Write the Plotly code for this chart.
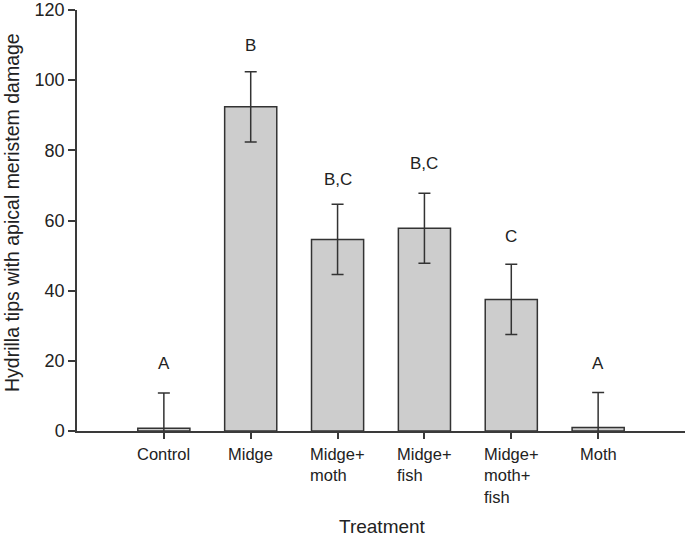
import plotly.graph_objects as go

categories = ["Control", "Midge", "Midge+<br>moth", "Midge+<br>fish", "Midge+<br>moth+<br>fish", "Moth"]
means = [0.8, 92.4, 54.6, 57.8, 37.5, 1.0]
errors = [10.0, 10.0, 10.0, 10.0, 10.0, 10.0]
letters = ["A", "B", "B,C", "B,C", "C", "A"]
letter_y = [19.2, 110.0, 71.7, 76.2, 55.4, 19.2]
y_ticks = [0, 20, 40, 60, 80, 100, 120]

FONT = "Liberation Sans, Arial, sans-serif"
TXT = "#222222"
LINE = "#3a3a3a"

fig = go.Figure()
fig.add_trace(go.Bar(
    x=categories, y=means, width=0.6,
    marker=dict(color="#cdcdcd", line=dict(color="#333333", width=1.5)),
    error_y=dict(type="data", array=errors, visible=True, color="#333333", thickness=1.5, width=6),
    showlegend=False,
))

for c, l, ly in zip(categories, letters, letter_y):
    fig.add_annotation(x=c, y=ly, xref="x", yref="y", text=l, showarrow=False,
                       font=dict(family=FONT, size=17, color=TXT), xanchor="center", yanchor="middle")

for c in categories:
    fig.add_annotation(x=c, y=0, xref="x", yref="paper", text=c, showarrow=False,
                       align="left", xanchor="center", yanchor="top", yshift=-12,
                       font=dict(family=FONT, size=16.5, color=TXT))

fig.add_annotation(x=-0.107, y=0.52, xref="paper", yref="paper", text="Hydrilla tips with apical meristem damage",
                   textangle=-90, showarrow=False, xanchor="center", yanchor="middle",
                   font=dict(family=FONT, size=19.5, color=TXT))
fig.add_annotation(x=0.502, y=-0.228, xref="paper", yref="paper", text="Treatment",
                   showarrow=False, xanchor="center", yanchor="middle",
                   font=dict(family=FONT, size=19, color=TXT))

fig.update_layout(
    width=685, height=538,
    margin=dict(l=77, r=0, t=10, b=107, autoexpand=False),
    plot_bgcolor="white", paper_bgcolor="white",
    font=dict(family=FONT, size=16, color=TXT),
    xaxis=dict(type="category", categoryorder="array", categoryarray=categories,
               range=[-1, 6], showticklabels=False, ticks="outside", ticklen=6,
               tickcolor=LINE, tickwidth=1.5, showline=True, linecolor=LINE, linewidth=1.5,
               showgrid=False, zeroline=False, automargin=False),
    yaxis=dict(range=[0, 120], tickmode="array", tickvals=y_ticks, ticks="outside", ticklen=7,
               tickcolor=LINE, tickwidth=1.5, showline=True, linecolor=LINE, linewidth=1.5,
               showgrid=False, zeroline=False, ticklabeloverflow="allow", automargin=False,
               tickfont=dict(family=FONT, size=18, color=TXT)),
)

fig.write_html("out.html", config={"displayModeBar": False},
               post_script="document.body.style.margin='0';")
